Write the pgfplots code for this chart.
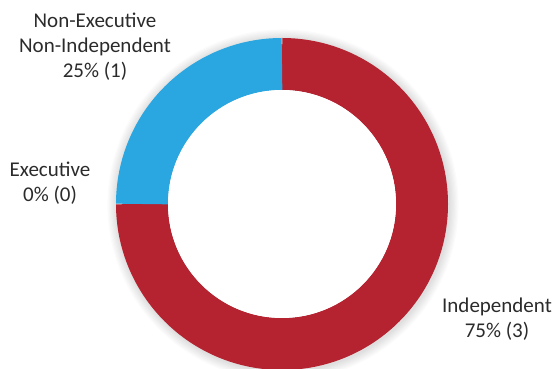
\documentclass[border=0pt]{standalone}
\usepackage{pgfplots}
\pgfplotsset{compat=1.18}
\usepackage{pgfplotstable}
\usepackage{fontspec}
\setmainfont{Carlito}
\definecolor{indred}{HTML}{B52230}
\definecolor{nonblue}{HTML}{2AA7E0}
\definecolor{txt}{HTML}{2B2B2B}

\pgfplotstableread{
label value
Independent 3
Executive 0
NonExecNonIndependent 1
}\datatable

\begin{document}
\begin{tikzpicture}
\pgfplotstablegetelem{0}{value}\of\datatable \let\vInd\pgfplotsretval
\pgfplotstablegetelem{1}{value}\of\datatable \let\vExe\pgfplotsretval
\pgfplotstablegetelem{2}{value}\of\datatable \let\vNon\pgfplotsretval
\pgfmathsetmacro{\vTot}{\vInd+\vExe+\vNon}
\pgfmathsetmacro{\aIndEnd}{90-360*\vInd/\vTot}
\pgfmathsetmacro{\aExeEnd}{\aIndEnd-360*\vExe/\vTot}
\pgfmathsetmacro{\aNonEnd}{\aExeEnd-360*\vNon/\vTot}
\begin{axis}[
  scale only axis, width=555pt, height=369pt,
  xmin=0, xmax=555, ymin=0, ymax=369,
  hide axis, clip=true,
]
% soft shadow
\pgfplotsinvokeforeach{1,...,8}{
  \fill[black, opacity=0.014] (axis cs:283,164) circle[radius={166+#1*1.2}];
}
% red: Independent
\draw[indred, line width=52pt] (axis cs:282,165) ++(90:140pt) arc[start angle=90, end angle=\aIndEnd, radius=140pt];
% blue: Non-Executive Non-Independent
\draw[nonblue, line width=52pt] (axis cs:282,165) ++(\aExeEnd:140pt) arc[start angle=\aExeEnd, end angle=\aNonEnd, radius=140pt];
% inner hole
\fill[white] (axis cs:282,165) circle[radius=114pt];
% labels
\node[txt, align=center, font=\fontsize{21}{25}\selectfont] at (axis cs:95,322) {Non-Executive\\Non-Independent\\25\% (1)};
\node[txt, align=center, font=\fontsize{21}{25}\selectfont] at (axis cs:50,186) {Executive\\0\% (0)};
\node[txt, align=center, font=\fontsize{21}{25}\selectfont] at (axis cs:497,50) {Independent\\75\% (3)};
\end{axis}
\pgfresetboundingbox
\useasboundingbox (current axis.south west) rectangle (current axis.north east);
\end{tikzpicture}
\end{document}
